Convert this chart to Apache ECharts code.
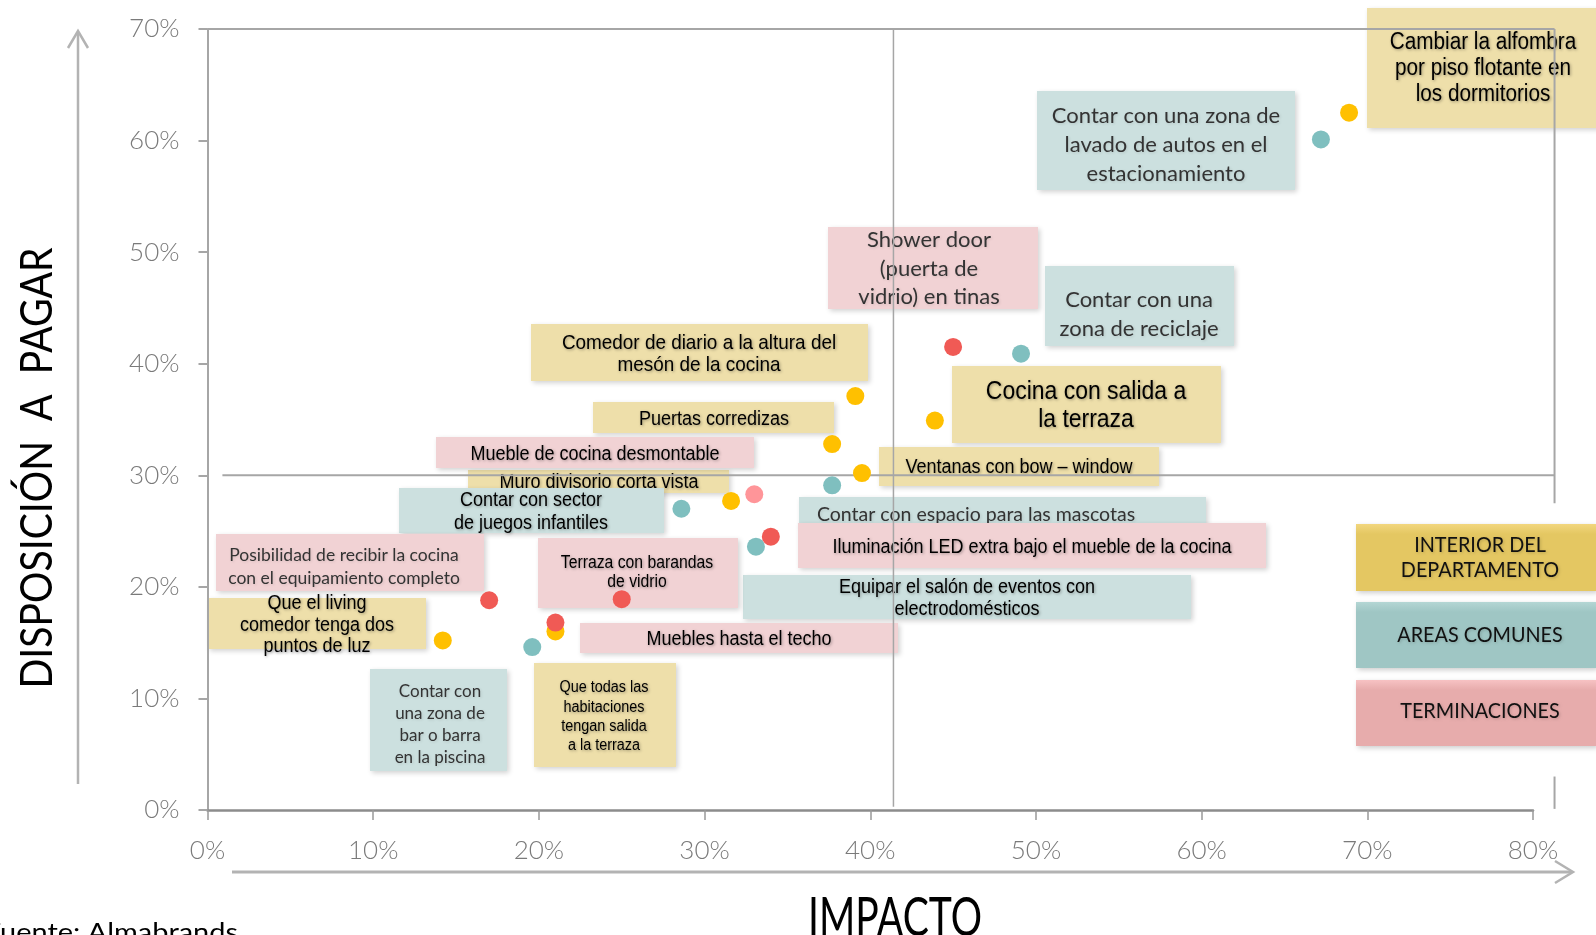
<!DOCTYPE html>
<html>
<head>
<meta charset="utf-8">
<script src="https://cdn.jsdelivr.net/npm/echarts@6/dist/echarts.min.js"></script>
<style>
  html, body { margin: 0; padding: 0; background: #fff; }
  #main { width: 1596px; height: 935px; }
</style>
</head>
<body>
<div id="main"></div>
<script>
// axis ranges (percent)
var xMax = 80, yMax = 70, step = 10;
// quadrant cut lines
var impactoCut = 41.4, pagoCut = 30;

// INTERIOR DEL DEPARTAMENTO
var interiorNames = [
  'Cambiar la alfombra\npor piso flotante en\nlos dormitorios',
  'Comedor de diario a la altura del\nmesón de la cocina',
  'Cocina con salida a\nla terraza',
  'Puertas corredizas',
  'Ventanas con bow – window',
  'Muro divisorio corta vista',
  'Que todas las\nhabitaciones\ntengan salida\na la terraza',
  'Que el living\ncomedor tenga dos\npuntos de luz'
];
var interiorX = [68.9, 39.1, 43.9, 37.7, 39.5, 31.6, 21.0, 14.2];
var interiorY = [62.5, 37.1, 34.9, 32.8, 30.2, 27.7, 16.0, 15.2];

// AREAS COMUNES
var comunesNames = [
  'Contar con una zona de\nlavado de autos en el\nestacionamiento',
  'Contar con una\nzona de reciclaje',
  'Contar con espacio para las mascotas',
  'Contar con sector\nde juegos infantiles',
  'Equipar el salón de eventos con\nelectrodomésticos',
  'Contar con\nuna zona de\nbar o barra\nen la piscina'
];
var comunesX = [67.2, 49.1, 37.7, 28.6, 33.1, 19.6];
var comunesY = [60.1, 40.9, 29.1, 27.0, 23.6, 14.6];

// TERMINACIONES
var terminacionesNames = [
  'Shower door\n(puerta de\nvidrio) en tinas',
  'Mueble de cocina desmontable',
  'Iluminación LED extra bajo el mueble de la cocina',
  'Posibilidad de recibir la cocina\ncon el equipamiento completo',
  'Terraza con barandas\nde vidrio',
  'Muebles hasta el techo'
];
var terminacionesX = [45.0, 33.0, 34.0, 17.0, 25.0, 21.0];
var terminacionesY = [41.5, 28.3, 24.5, 18.8, 18.9, 16.8];

var legendNames = ['INTERIOR DEL\nDEPARTAMENTO', 'AREAS COMUNES', 'TERMINACIONES'];

var ARIAL = "'Liberation Sans', Arial, sans-serif";
var CALI = "Lato, 'Open Sans', sans-serif";
var dotColors = ['#FFC000', '#7FBFBF', '#F05A55'];
var boxColors = ['#EEDFAA', '#CCE0DF', '#F1D2D4'];

// annotation boxes: [x, y, w, h], text centre, line height, font size, font kind
var notes = [
  {set: 0, i: 0, box: [1367, 8, 240, 120], cx: 1483, cy: 69, lh: 26, size: 23, f: 'a'},
  {set: 0, i: 1, box: [531, 324, 337, 57], cx: 699, cy: 354, lh: 22, size: 21, f: 'a'},
  {set: 0, i: 2, box: [952, 366, 269, 77], cx: 1086, cy: 406, lh: 28.5, size: 25.5, f: 'a'},
  {set: 0, i: 3, box: [593, 402, 241, 31], cx: 714, cy: 419, lh: 22, size: 20, f: 'a'},
  {set: 0, i: 4, box: [879, 447, 280, 39], cx: 1019, cy: 467, lh: 22, size: 20, f: 'a'},
  {set: 0, i: 5, box: [468, 470, 261, 23], cx: 599, cy: 482, lh: 22, size: 20, f: 'a'},
  {set: 0, i: 6, box: [534, 663, 142, 104], cx: 604, cy: 717, lh: 19.3, size: 16, f: 'a'},
  {set: 0, i: 7, box: [208, 598, 218, 51], cx: 317, cy: 625, lh: 21.7, size: 20, f: 'a'},
  {set: 1, i: 0, box: [1037, 91, 258, 99], cx: 1166, cy: 145, lh: 28.7, size: 22, f: 'c'},
  {set: 1, i: 1, box: [1045, 266, 189, 80], cx: 1139, cy: 314, lh: 29, size: 22, f: 'c'},
  {set: 1, i: 2, box: [799, 497, 407, 30], cx: 976, cy: 515, lh: 22, size: 19.5, f: 'c'},
  {set: 1, i: 3, box: [399, 488, 265, 45], cx: 531, cy: 512, lh: 22.3, size: 20, f: 'a'},
  {set: 1, i: 4, box: [743, 575, 448, 44], cx: 967, cy: 598.5, lh: 21.6, size: 20, f: 'a'},
  {set: 1, i: 5, box: [370, 669, 137, 102], cx: 440, cy: 724.5, lh: 22.2, size: 17, f: 'c'},
  {set: 2, i: 0, box: [828, 227, 210, 82], cx: 929, cy: 268.5, lh: 28.7, size: 22, f: 'c'},
  {set: 2, i: 1, box: [436, 437, 318, 31], cx: 595, cy: 454, lh: 22, size: 20, f: 'a'},
  {set: 2, i: 2, box: [798, 523, 468, 45], cx: 1032, cy: 547, lh: 22, size: 20, f: 'a'},
  {set: 2, i: 3, box: [216, 534, 268, 57], cx: 344, cy: 567, lh: 22.6, size: 17.5, f: 'c'},
  {set: 2, i: 4, box: [538, 538, 200, 70], cx: 637, cy: 573, lh: 18.7, size: 17.5, f: 'a'},
  {set: 2, i: 5, box: [580, 623, 318, 30], cx: 739, cy: 639, lh: 22, size: 20, f: 'a'}
];

var nameSets = [interiorNames, comunesNames, terminacionesNames];

var measureCtx = document.createElement('canvas').getContext('2d');
function textWidth(txt, font) {
  measureCtx.font = font;
  return Math.max.apply(null, txt.split('\n').map(function (l) { return measureCtx.measureText(l).width; }));
}

function points(xs, ys, names) {
  return xs.map(function (x, k) { return {value: [x, ys[k]], name: names[k]}; });
}

var myChart = echarts.init(document.getElementById('main'));

var axisLabel = {
  formatter: '{value}%',
  color: '#7a7a7a',
  fontSize: 26,
  fontFamily: CALI,
  fontWeight: 300,
  margin: 28
};

var termData = points(terminacionesX, terminacionesY, terminacionesNames);
termData[1].itemStyle = {color: '#FF9599'};

var option = {
  animation: false,
  backgroundColor: '#fff',
  grid: {left: 207.5, right: 63, top: 29, bottom: 125, containLabel: false, outerBoundsMode: 'none'},
  xAxis: {
    type: 'value', min: 0, max: xMax, interval: step,
    axisLine: {lineStyle: {color: '#8c8c8c', width: 2.5}},
    axisTick: {show: true, length: 10, lineStyle: {color: '#999', width: 1.5}},
    splitLine: {show: false},
    axisLabel: axisLabel
  },
  yAxis: {
    type: 'value', min: 0, max: yMax, interval: step,
    axisLine: {show: true, lineStyle: {color: '#a6a6a6', width: 2}},
    axisTick: {show: true, length: 9, lineStyle: {color: '#a6a6a6', width: 2}},
    splitLine: {show: false},
    axisLabel: axisLabel
  },
  series: [
    {name: legendNames[0], type: 'scatter', symbolSize: 18, z: 2,
      itemStyle: {color: dotColors[0], opacity: 1}, data: points(interiorX, interiorY, interiorNames)},
    {name: legendNames[1], type: 'scatter', symbolSize: 18, z: 2,
      itemStyle: {color: dotColors[1], opacity: 1}, data: points(comunesX, comunesY, comunesNames)},
    {name: legendNames[2], type: 'scatter', symbolSize: 18, z: 2,
      itemStyle: {color: dotColors[2], opacity: 1}, data: termData}
  ]
};
myChart.setOption(option);

// decorations built on top of the laid-out grid
var P = function (x, y) { return myChart.convertToPixel({gridIndex: 0}, [x, y]); };
var lineStyle = {stroke: '#a6a6a6', lineWidth: 2};
var g = [];

notes.forEach(function (n) {
  var fam = n.f === 'a' ? ARIAL : CALI;
  var font = n.size + 'px ' + fam;
  g.push({type: 'rect', z: 0, shape: {x: n.box[0], y: n.box[1], width: n.box[2], height: n.box[3]},
    style: {fill: boxColors[n.set], shadowBlur: 5, shadowColor: 'rgba(0,0,0,0.18)', shadowOffsetX: 2, shadowOffsetY: 2}});
  g.push({type: 'text', z: 0, x: n.cx, y: n.cy, scaleX: n.f === 'a' ? 0.9 : 1.0,
    style: {text: nameSets[n.set][n.i], font: font, fill: n.f === 'a' ? '#000' : '#333',
      textAlign: 'center', textVerticalAlign: 'middle', align: 'center', verticalAlign: 'middle', lineHeight: n.lh,
      textShadowColor: n.f === 'a' ? 'rgba(0,0,0,0.35)' : 'rgba(0,0,0,0.12)', textShadowBlur: 3,
      textShadowOffsetX: 1, textShadowOffsetY: 1}});
});

// legend boxes
var legendFill = [['#F2D67E', '#E4C762'], ['#B4D6D4', '#9FC6C4'], ['#F7C2C3', '#E7ACAC']];
var legendBoxes = [[1356, 524, 240, 67, 557.5], [1356, 602, 240, 66, 635], [1356, 680, 240, 66, 711]];
legendBoxes.forEach(function (b, k) {
  g.push({type: 'rect', z: 0, shape: {x: b[0], y: b[1], width: b[2], height: b[3]},
    style: {fill: {type: 'linear', x: 0, y: 0, x2: 0, y2: 1,
      colorStops: [{offset: 0, color: legendFill[k][0]}, {offset: 0.15, color: legendFill[k][1]}, {offset: 1, color: legendFill[k][1]}]},
      shadowBlur: 5, shadowColor: 'rgba(0,0,0,0.2)', shadowOffsetX: 2, shadowOffsetY: 2}});
  g.push({type: 'text', z: 0, x: 1480, y: b[4], scaleX: 0.9,
    style: {text: legendNames[k], font: '22px ' + CALI, fill: '#111', lineHeight: 25,
      textAlign: 'center', textVerticalAlign: 'middle', align: 'center', verticalAlign: 'middle',
      textShadowColor: 'rgba(0,0,0,0.2)', textShadowBlur: 3, textShadowOffsetX: 1, textShadowOffsetY: 1}});
});

// frame and quadrant lines
var frameX = 81.3;
var tl = P(0, yMax), tr = P(frameX, yMax);
g.push({type: 'line', z: 1, shape: {x1: tl[0], y1: tl[1], x2: tr[0], y2: tr[1]}, style: lineStyle});
g.push({type: 'line', z: 1, shape: {x1: tr[0], y1: tr[1], x2: tr[0], y2: P(frameX, 27.5)[1]}, style: lineStyle});
g.push({type: 'line', z: 1, shape: {x1: tr[0], y1: P(frameX, 3.0)[1], x2: tr[0], y2: P(frameX, 0.1)[1]}, style: lineStyle});
var h1 = P(0.9, pagoCut), h2 = P(frameX, pagoCut);
g.push({type: 'line', z: 1, shape: {x1: h1[0], y1: h1[1], x2: h2[0], y2: h2[1]}, style: lineStyle});
var v1 = P(impactoCut, yMax), v2 = P(impactoCut, 0.3);
g.push({type: 'line', z: 1, shape: {x1: v1[0], y1: v1[1], x2: v2[0], y2: v2[1]}, style: {stroke: '#a6a6a6', lineWidth: 1.5}});

// arrows
var arrowStyle = {stroke: '#b3b3b3', lineWidth: 2.5, fill: null};
g.push({type: 'line', z: 1, shape: {x1: 78, y1: 32, x2: 78, y2: 784}, style: arrowStyle});
g.push({type: 'polyline', z: 1, shape: {points: [[68, 48], [78, 31], [88, 48]]}, style: arrowStyle});
g.push({type: 'line', z: 1, shape: {x1: 232, y1: 872, x2: 1571, y2: 872}, style: {stroke: '#b3b3b3', lineWidth: 3}});
g.push({type: 'polyline', z: 1, shape: {points: [[1555, 861], [1573, 872], [1555, 883]]}, style: arrowStyle});

// axis titles
var yTitle = 'DISPOSICIÓN  A  PAGAR';
var yFont = '44px ' + CALI;
g.push({type: 'text', z: 1, x: 37.5, y: 468, rotation: Math.PI / 2, scaleX: 441 / textWidth(yTitle, yFont),
  style: {text: yTitle, font: yFont, fill: '#000', textAlign: 'center', textVerticalAlign: 'middle', align: 'center', verticalAlign: 'middle'}});
var xTitle = 'IMPACTO';
var xFont = '54px ' + CALI;
g.push({type: 'text', z: 1, x: 895, y: 919, scaleX: 174 / textWidth(xTitle, xFont),
  style: {text: xTitle, font: xFont, fill: '#000', textAlign: 'center', textVerticalAlign: 'middle', align: 'center', verticalAlign: 'middle'}});
var source = 'Fuente: Almabrands';
var sFont = '25px ' + CALI;
g.push({type: 'text', z: 1, x: 238, y: 933, scaleX: 238 / textWidth('uente: Almabrands', sFont),
  style: {text: source, font: sFont, fill: '#000', textAlign: 'right', textVerticalAlign: 'middle', align: 'right', verticalAlign: 'middle'}});

myChart.setOption({graphic: {elements: g}});
</script>
</body>
</html>
